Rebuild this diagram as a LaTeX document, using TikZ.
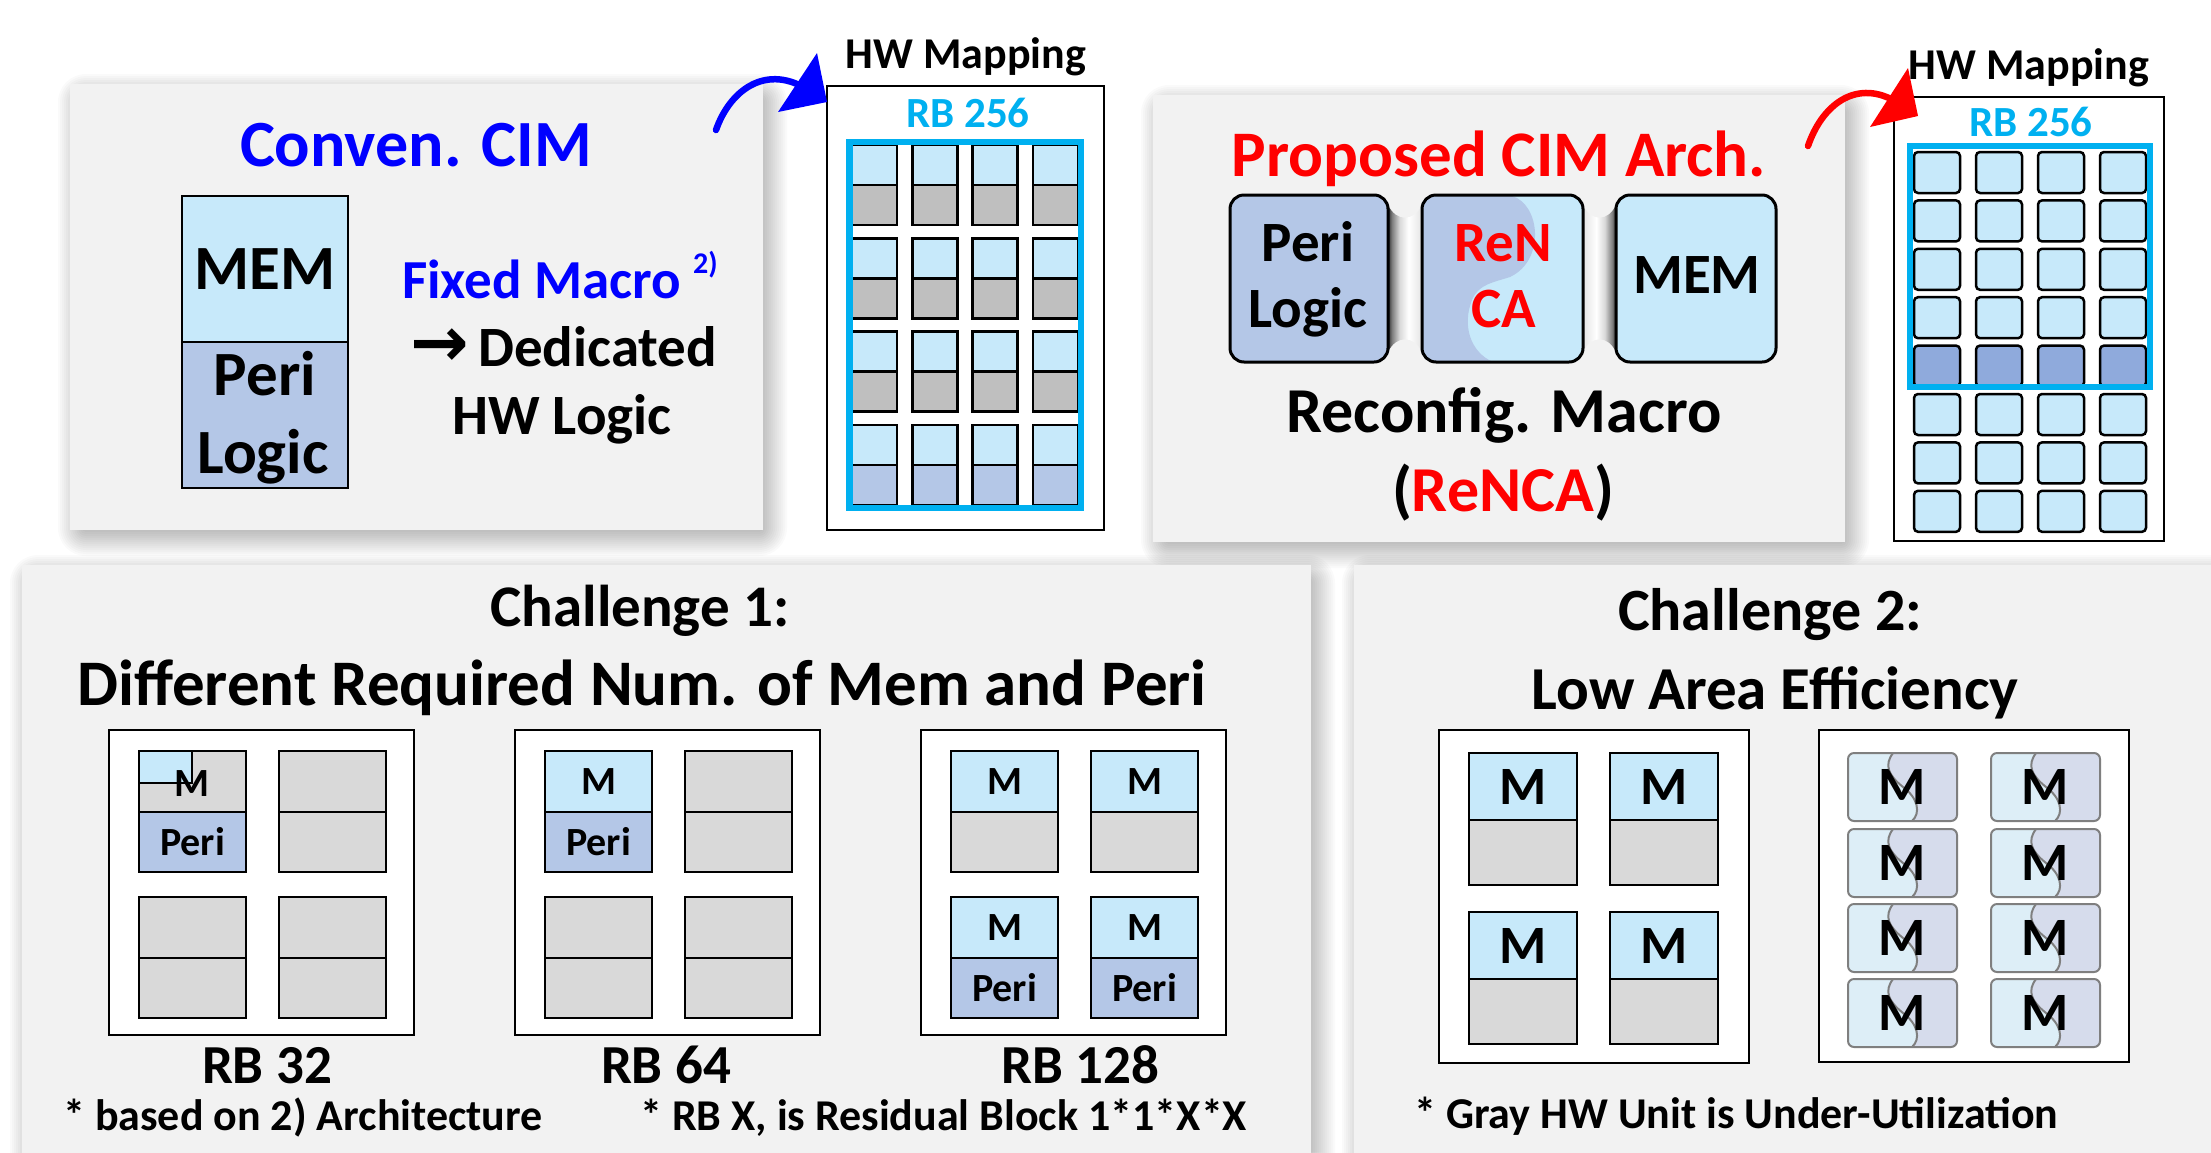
\documentclass[tikz,border=0pt]{standalone}
\usepackage{fontspec}
\setmainfont{Carlito}
\newfontfamily\symfont{DejaVu Sans}
\definecolor{lblue}{HTML}{C7E9FA}
\definecolor{peri}{HTML}{B4C7E7}
\definecolor{dperi}{HTML}{8FAADC}
\definecolor{gcell}{HTML}{BFBFBF}
\definecolor{lgcell}{HTML}{D9D9D9}
\definecolor{cyanf}{HTML}{00B0F0}
\definecolor{panelbg}{HTML}{F2F2F2}
\definecolor{cxl}{HTML}{DDEEF7}
\definecolor{cxd}{HTML}{D6DCEC}
\definecolor{pblue}{HTML}{0000FF}
\definecolor{pred}{HTML}{FF0000}
\definecolor{gline}{HTML}{7F7F7F}
\pgfdeclarehorizontalshading{brL}{100bp}{color(0bp)=(black!80); color(25bp)=(black!80); color(31bp)=(black!50); color(42bp)=(black!15); color(55bp)=(white); color(70bp)=(black!8); color(75bp)=(black!10); color(100bp)=(black!10)}
\pgfdeclarehorizontalshading{brR}{100bp}{color(0bp)=(black!10); color(25bp)=(black!10); color(30bp)=(black!8); color(45bp)=(white); color(58bp)=(black!15); color(69bp)=(black!50); color(75bp)=(black!80); color(100bp)=(black!80)}
% soft shadow behind a panel
\newcommand\pshadow[4]{%
  \foreach \k in {1,...,14}{%
    \pgfmathsetmacro\ee{2*\k-10}%
    \fill[black, opacity=0.02, rounded corners=2*\k] ({#1+6-\ee},{#2+8-\ee}) rectangle ({#3+6+\ee},{#4+8+\ee});}}
% unit of challenge 1: x y topfill botfill toptext bottext
\newcommand\cunit[6]{%
  \filldraw[fill=#3, line width=2.5pt] (#1,#2) rectangle ++(107,61);
  \filldraw[fill=#4, line width=2.5pt] ({#1},{#2+61}) rectangle ++(107,60);
  \node[txt=40] at ({#1+53.5},{#2+43}) {#5};
  \node[txt=40] at ({#1+53.5},{#2+104}) {#6};}
% unit of challenge 2 (left box)
\newcommand\dunit[2]{%
  \filldraw[fill=lblue, line width=2.5pt] (#1,#2) rectangle ++(108,67);
  \filldraw[fill=lgcell, line width=2.5pt] ({#1},{#2+67}) rectangle ++(108,65);
  \node[txt=54] at ({#1+54},{#2+51}) {M};}
% reconfigurable cell of challenge 2 (right box)
\newcommand\rcell[2]{%
  \begin{scope}[shift={(#1,#2)}]
    \begin{scope}
      \clip[rounded corners=6pt] (0,0) rectangle (109,68);
      \fill[cxl] (0,0) rectangle (109,68);
      \fill[cxd] (45,-2) -- (45,0) .. controls (36,12) and (40,22) .. (55,34) .. controls (70,45) and (73,60) .. (64,68) -- (64,70) -- (111,70) -- (111,-2) -- cycle;
    \end{scope}
    \draw[gline, line width=2pt] (45,0) .. controls (36,12) and (40,22) .. (55,34) .. controls (70,45) and (73,60) .. (64,68);
    \draw[gline, line width=2pt, rounded corners=6pt] (0,0) rectangle (109,68);
    \node[txt=54] at (54.5,51.5) {M};
  \end{scope}}
\begin{document}
\begin{tikzpicture}[x=1pt, y=-1pt,
  txt/.style={font=\bfseries\fontsize{#1}{#1}\selectfont, inner sep=0pt, anchor=base},
  panel/.style={fill=panelbg},
  hwbox/.style={draw=black, fill=white, line width=2.5pt},
  cell/.style={draw=black, line width=2.5pt},
  macro/.style={draw=black, line width=3pt, rounded corners=14pt},
  bendarrow/.style={line width=6.5pt, line cap=round}]
\clip (0,0) rectangle (2211,1152);
\fill[white] (0,0) rectangle (2211,1152);

% ---------- top panels ----------
\pshadow{70}{84}{763}{530}
\pshadow{1153}{95}{1845}{542}
\fill[panel] (70,84) rectangle (763,530);
\fill[panel] (1153,95) rectangle (1845,542);

% ---------- bottom panels ----------
\pshadow{22}{565}{1311}{1180}
\pshadow{1354}{565}{2240}{1180}
\fill[panel] (22,565) rectangle (1311,1180);
\fill[panel] (1354,565) rectangle (2240,1180);

% ================= Conventional CIM =================
\node[txt=66, text=pblue] (conv) at (416,166) {Conven. CIM};
\filldraw[fill=lblue, line width=2.5pt] (182,196) rectangle (348,342);
\filldraw[fill=peri, line width=2.5pt] (182,342) rectangle (348,488);
\node[txt=63] (mem1) at (265,289) {MEM};
\node[txt=63] (peri1) at (265,395) {Peri};
\node[txt=63] (logic1) at (263,473) {Logic};
\node[txt=55, text=pblue, anchor=base west] (fixed) at (402,298) {Fixed Macro};
\node[txt=30, text=pblue, anchor=base west] (ref2) at (693,273) {2)};
\node[txt=57, anchor=base west] (ded) at (410,366) {{\symfont\bfseries\fontsize{70}{70}\selectfont →}\,Dedicated};
\node[txt=57] (hwl) at (562,434) {HW Logic};

% HW mapping (left)
\draw[hwbox] (827,86) rectangle (1104,530);
\foreach \g in {0,...,3}{
  \foreach \i in {0,...,3}{
    \pgfmathsetmacro\xx{852+60.33*\i}
    \pgfmathsetmacro\yy{145+93.33*\g}
    \filldraw[cell, fill=lblue] (\xx,\yy) rectangle ++(45,40);
    \ifnum\g=3
      \filldraw[cell, fill=peri] (\xx,\yy+40) rectangle ++(45,40);
    \else
      \filldraw[cell, fill=gcell] (\xx,\yy+40) rectangle ++(45,40);
    \fi
  }}
\draw[cyanf, line width=6.5pt] (849.5,142) rectangle (1081,508);
\node[txt=43, text=cyanf] (rb1) at (968,127) {RB 256};

% blue bent arrow
\coordinate (ba0) at (716,130);
\coordinate (ba1) at (805,88);
\coordinate (batip) at (817,53);
\draw[bendarrow, pblue] (ba0) .. controls (730,90) and (765,65) .. (ba1);
\fill[pblue] (batip) -- (778,112) -- (827,102) -- cycle;
\node[txt=44] (hwm1) at (966,68) {HW Mapping};

% ================= Proposed =================
\node[txt=65, text=pred] (prop) at (1499,176) {Proposed CIM Arch.};
% bridges
\shade[shading=brL] (1388,205) .. controls (1396,222) and (1414,222) .. (1422,205) -- (1422,352) .. controls (1414,335) and (1396,335) .. (1388,352) -- cycle;
\shade[shading=brR] (1583,205) .. controls (1591,222) and (1608,222) .. (1616,205) -- (1616,352) .. controls (1608,335) and (1591,335) .. (1583,352) -- cycle;
% Peri Logic
\filldraw[macro, fill=peri] (1230,195) rectangle (1388,362);
% ReNCA
\begin{scope}
  \clip[rounded corners=14pt] (1422,195) rectangle (1583,362);
  \fill[lblue] (1422,195) rectangle (1583,362);
  \fill[peri] (1418,190) -- (1512,190) -- (1512,196) .. controls (1540,204) and (1546,260) .. (1510,277) .. controls (1495,282) and (1478,284) .. (1472,300) .. controls (1462,325) and (1470,352) .. (1493,362) -- (1493,366) -- (1418,366) -- cycle;
\end{scope}
\draw[macro] (1422,195) rectangle (1583,362);
% MEM
\filldraw[macro, fill=lblue] (1616,195) rectangle (1776,362);
\node[txt=57] (peri2) at (1308,261) {Peri};
\node[txt=57] (logic2) at (1308,327) {Logic};
\node[txt=57, text=pred] (ren) at (1503,261) {ReN};
\node[txt=57, text=pred] (ca) at (1504,327) {CA};
\node[txt=57] (mem2) at (1697,293) {MEM};
\node[txt=64] (recfg) at (1504,432) {Reconfig. Macro};
\node[txt=64] (renca) at (1503,511) {(\textcolor{pred}{ReNCA})};

% HW mapping (right)
\draw[hwbox] (1894,97) rectangle (2164,541);
\foreach \r in {0,...,7}{
  \foreach \i in {0,...,3}{
    \pgfmathsetmacro\xx{1914+62*\i}
    \pgfmathsetmacro\yy{152+48.4*\r}
    \ifnum\r=4
      \filldraw[cell, fill=dperi, rounded corners=4pt] (\xx,\yy) rectangle ++(46,41);
    \else
      \filldraw[cell, fill=lblue, rounded corners=4pt] (\xx,\yy) rectangle ++(46,41);
    \fi
  }}
\draw[cyanf, line width=6.5pt] (1910,146) rectangle (2150,387);
\node[txt=43, text=cyanf] (rb2) at (2031,136) {RB 256};

% red bent arrow
\coordinate (ra0) at (1808,146);
\coordinate (ra1) at (1893,100);
\coordinate (ratip) at (1908,68);
\draw[bendarrow, pred] (ra0) .. controls (1822,105) and (1855,80) .. (ra1);
\fill[pred] (ratip) -- (1870,127) -- (1918,116) -- cycle;
\node[txt=44] (hwm2) at (2029,79) {HW Mapping};

% ================= Challenge 1 =================
\node[txt=59] (ch1) at (640,626) {Challenge 1:};
\node[txt=65] (ch1b) at (642,705) {Different Required Num. of Mem and Peri};
\draw[hwbox] (109,730) rectangle (414,1035);
\draw[hwbox] (515,730) rectangle (820,1035);
\draw[hwbox] (921,730) rectangle (1226,1035);
% RB 32
\cunit{139}{751}{lgcell}{peri}{}{Peri}
\filldraw[fill=lblue, line width=2.5pt] (139,751) rectangle (192,783);
\node[txt=40] (m32) at (192,796) {M};
\cunit{279}{751}{lgcell}{lgcell}{}{}
\cunit{139}{897}{lgcell}{lgcell}{}{}
\cunit{279}{897}{lgcell}{lgcell}{}{}
% RB 64
\cunit{545}{751}{lblue}{peri}{M}{Peri}
\cunit{685}{751}{lgcell}{lgcell}{}{}
\cunit{545}{897}{lgcell}{lgcell}{}{}
\cunit{685}{897}{lgcell}{lgcell}{}{}
% RB 128
\cunit{951}{751}{lblue}{lgcell}{M}{}
\cunit{1091}{751}{lblue}{lgcell}{M}{}
\cunit{951}{897}{lblue}{peri}{M}{Peri}
\cunit{1091}{897}{lblue}{peri}{M}{Peri}
\node[txt=55] (rb32) at (267,1083) {RB 32};
\node[txt=55] (rb64) at (666,1083) {RB 64};
\node[txt=55] (rb128) at (1080,1083) {RB 128};
\node[txt=44, anchor=base west] (fn1) at (63,1130) {* based on 2) Architecture};
\node[txt=44, anchor=base west] (fn2) at (640,1130) {* RB X, is Residual Block 1*1*X*X};

% ================= Challenge 2 =================
\node[txt=60] (ch2) at (1770,630) {Challenge 2:};
\node[txt=61] (ch2b) at (1775,709) {Low Area Efficiency};
\draw[hwbox] (1439,730) rectangle (1749,1063);
\dunit{1469}{753}
\dunit{1610}{753}
\dunit{1469}{912}
\dunit{1610}{912}
\draw[hwbox] (1819,730) rectangle (2129,1062);
\foreach \yy in {753,829,904,979}{
  \rcell{1848}{\yy}
  \rcell{1991}{\yy}
}
\node[txt=44, anchor=base west] (fn3) at (1414,1128) {* Gray HW Unit is Under-Utilization};
\end{tikzpicture}
\end{document}
